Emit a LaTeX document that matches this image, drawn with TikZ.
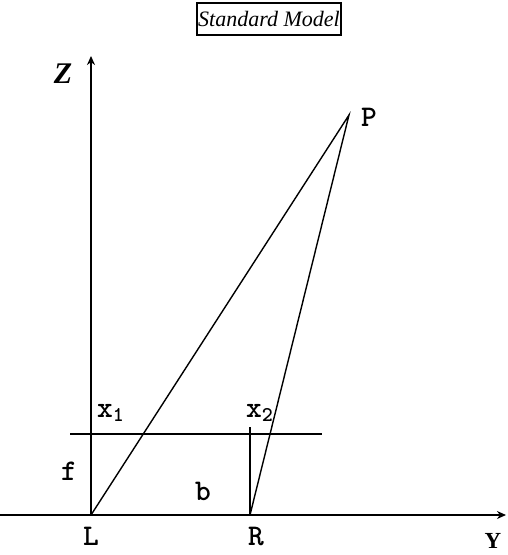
\documentclass[tikz,border=0pt]{standalone}
\usepackage{fontspec}
\setmainfont{Liberation Serif}
\usetikzlibrary{arrows.meta}
\begin{document}
\begin{tikzpicture}[x=1pt,y=-1pt,
  axis/.style={line width=2.4pt,-{Stealth[length=9pt,width=8pt]}},
  thin line/.style={line width=1.4pt},
  lbl/.style={font=\ttfamily\bfseries\fontsize{30}{30}\selectfont,inner sep=0pt},
  axlbl/.style={inner sep=0pt}]
\useasboundingbox (0,0) rectangle (507,555);
\node[draw,line width=1.8pt,inner sep=1.5pt,minimum width=140pt,minimum height=32pt,font=\itshape\fontsize{22}{22}\selectfont] (title) at (269,19) {Standard Model};
\coordinate (L) at (91,515);
\coordinate (R) at (250,515);
\coordinate (P) at (349,115);
\coordinate (Yl) at (0,515);
\coordinate (Yr) at (506,515);
\coordinate (Zt) at (91,56);
\coordinate (Il) at (70,434);
\coordinate (Ir) at (322,434);
\coordinate (Rt) at (250,427);
\draw[axis] (Yl) -- (Yr);
\draw[axis] (L) -- (Zt);
\draw[thin line] (Il) -- (Ir);
\draw[thin line] (R) -- (Rt);
\draw[thin line] (L) -- (P) -- (R);
\node[axlbl,font=\bfseries\itshape\fontsize{30}{30}\selectfont] (zl) at (63,74) {Z};
\node[axlbl,font=\bfseries\fontsize{23}{23}\selectfont] (yl) at (493,541) {Y};
\node[lbl] (pl) at (369,117) {P};
\node[lbl] (ll) at (91,536) {L};
\node[lbl] (rl) at (256,536) {R};
\node[lbl] (fl) at (69,471) {f};
\node[lbl] (bl) at (203,491) {b};
\node[lbl,anchor=base west] (x1) at (97,417) {x\textsubscript{1}};
\node[lbl,anchor=base west] (x2) at (246,417) {x\textsubscript{2}};
\end{tikzpicture}
\end{document}
